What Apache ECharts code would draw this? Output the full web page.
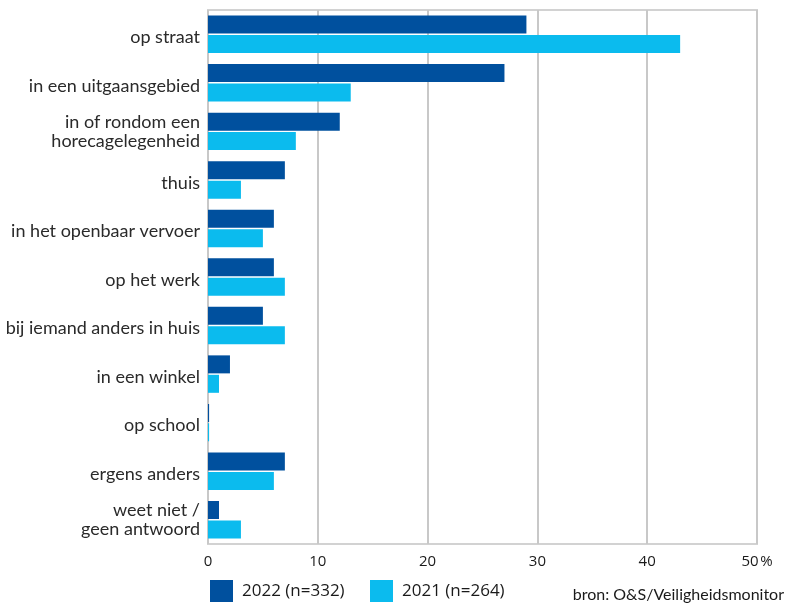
<!DOCTYPE html>
<html>
<head>
<meta charset="utf-8">
<script src="https://cdn.jsdelivr.net/npm/echarts@6/dist/echarts.min.js"></script>
<style>
html,body{margin:0;padding:0;background:#fff;}
#main{width:786px;height:604px;}
</style>
</head>
<body>
<div id="main"></div>
<script>
var categories = ["op straat","in een uitgaansgebied","in of rondom een\nhorecagelegenheid","thuis","in het openbaar vervoer","op het werk","bij iemand anders in huis","in een winkel","op school","ergens anders","weet niet /\ngeen antwoord"];
var values2022 = [29,27,12,7,6,6,5,2,0.1,7,1];
var values2021 = [43,13,8,3,5,7,7,1,0.1,6,3];
var xTicks = [0,10,20,30,40,50];
var name2022 = "2022 (n=332)";
var name2021 = "2021 (n=264)";

var chart = echarts.init(document.getElementById('main'));
var catFont = 'Lato, "Noto Sans", sans-serif';
var numFont = '"Open Sans", "Noto Sans", sans-serif';
chart.setOption({
  animation:false,
  textStyle:{fontFamily:catFont},
  grid:{left:208,right:29,top:10,bottom:60,show:true,borderColor:'#d2d2d2',borderWidth:2,containLabel:false},
  xAxis:{type:'value',min:0,max:50,interval:10,
    axisLine:{show:false},axisTick:{show:false},
    splitLine:{show:true,lineStyle:{color:'#c8c8c8',width:2}},
    axisLabel:{color:'#1a1a1a',fontSize:15,margin:10,fontFamily:numFont,
      formatter:function(v){
        if(xTicks.indexOf(v)<0) return '';
        return v===xTicks[xTicks.length-1] ? v+'\u200a%' : String(v);
      }}},
  yAxis:{type:'category',data:categories,inverse:true,
    axisLine:{show:false},axisTick:{show:false},
    axisLabel:{color:'#2a2a2a',fontSize:18,lineHeight:19,margin:8,fontFamily:catFont,
      formatter:function(v){return v.indexOf('\n')<0 ? '{s|'+v+'}' : v;},
      rich:{s:{fontSize:18,lineHeight:19,color:'#2a2a2a',fontFamily:catFont,padding:[6,0,0,0]}}}},
  legend:[
    {data:[name2022],left:210,top:580,itemWidth:23,itemHeight:22,itemGap:0,icon:'rect',padding:0,
     textStyle:{fontSize:17,color:'#1a1a1a',fontFamily:numFont,padding:[10,0,0,4]}},
    {data:[name2021],left:370,top:580,itemWidth:23,itemHeight:22,itemGap:0,icon:'rect',padding:0,
     textStyle:{fontSize:17,color:'#1a1a1a',fontFamily:numFont,padding:[10,0,0,4]}}
  ],
  graphic:[
    {type:'text',right:2,top:587,style:{text:'bron: O&S/Veiligheidsmonitor',fontSize:16,fill:'#1a1a1a',fontFamily:catFont}}
  ],
  series:[
    {name:name2022,type:'bar',data:values2022,barWidth:18,barGap:'8%',itemStyle:{color:'#00509e'}},
    {name:name2021,type:'bar',data:values2021,barWidth:18,barGap:'8%',itemStyle:{color:'#0bbbee'}}
  ]
});
</script>
</body>
</html>
